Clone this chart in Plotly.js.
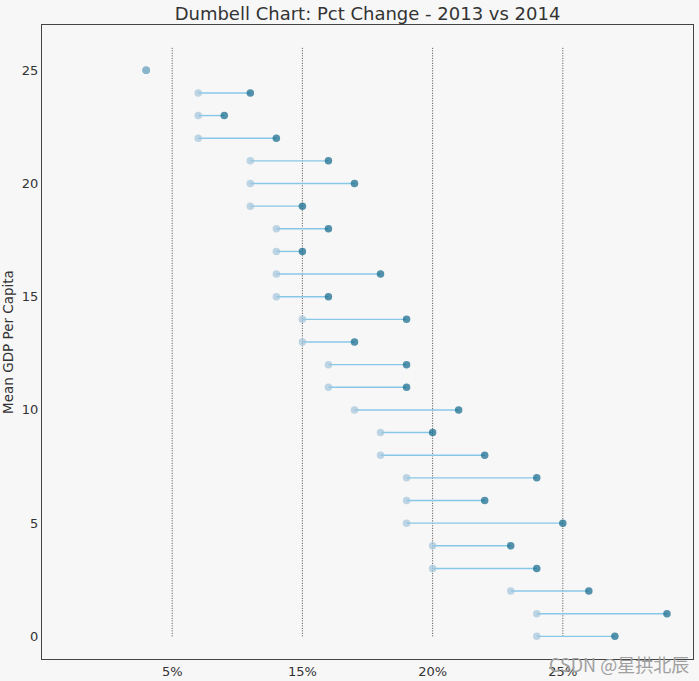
<!DOCTYPE html>
<html>
<head>
<meta charset="utf-8">
<script src="https://cdn.plot.ly/plotly-3.0.1.min.js"></script>
<style>html,body{margin:0;padding:0;background:#f7f7f7;}#chart{width:699px;height:681px;}</style>
</head>
<body>
<div id="chart"></div>
<script>
const rowIndex = [0,1,2,3,4,5,6,7,8,9,10,11,12,13,14,15,16,17,18,19,20,21,22,23,24,25];
const pct2013 = [0.19,0.19,0.18,0.15,0.15,0.14,0.14,0.14,0.13,0.13,0.12,0.11,0.11,0.10,0.10,0.09,0.09,0.09,0.09,0.08,0.08,0.08,0.06,0.06,0.06,0.04];
const pct2014 = [0.22,0.24,0.21,0.19,0.18,0.20,0.17,0.19,0.17,0.15,0.16,0.14,0.14,0.12,0.14,0.11,0.13,0.10,0.11,0.10,0.12,0.11,0.09,0.07,0.08,0.04];
const vlineX = [0.05,0.10,0.15,0.20];
const xTickVals = [0.05,0.10,0.15,0.20];
const xTickText = ['5%','15%','20%','25%'];
const yTickVals = [0,5,10,15,20,25];

const segX = [], segY = [];
rowIndex.forEach((y,i)=>{ segX.push(pct2013[i], pct2014[i], null); segY.push(y, y, null); });

const traces = [
  {type:'scatter', mode:'lines', x:segX, y:segY, line:{color:'#87c8e8', width:1.4}, hoverinfo:'skip', showlegend:false},
  {type:'scatter', mode:'markers', x:pct2014, y:rowIndex, marker:{color:'#0e668b', opacity:0.7, size:7.5}, showlegend:false},
  {type:'scatter', mode:'markers', x:pct2013, y:rowIndex, marker:{color:'#a3c4dc', opacity:0.7, size:7.5}, showlegend:false}
];

const shapes = vlineX.map(v=>({type:'line', xref:'x', yref:'y', x0:v, x1:v, y0:0, y1:26, line:{color:'#222', width:0.8, dash:'1px,1.5px'}, layer:'below'}));

const layout = {
  width:699, height:681,
  paper_bgcolor:'#f7f7f7', plot_bgcolor:'#f7f7f7',
  margin:{l:42, r:6, t:25, b:22},
  font:{family:'DejaVu Sans', color:'#333', size:13},
  title:{text:'Dumbell Chart: Pct Change - 2013 vs 2014', font:{size:18, color:'#333'}, x:0.5258, xanchor:'center', y:0.98, yanchor:'middle'},
  xaxis:{range:[0,0.25], tickvals:xTickVals, ticktext:xTickText, showgrid:false, zeroline:false, showline:true, mirror:true, linecolor:'#444', linewidth:1, ticks:'', ticklen:0, tickfont:{size:13, color:'#333'}},
  yaxis:{range:[-1,27], tickvals:yTickVals, showgrid:false, zeroline:false, showline:true, mirror:true, linecolor:'#444', linewidth:1, ticks:'', ticklen:0, tickfont:{size:13, color:'#333'}, title:{text:'Mean GDP Per Capita', font:{size:13.5, color:'#333'}, standoff:5}},
  shapes:shapes,
  annotations:[{text:'CSDN @星拱北辰', xref:'paper', yref:'paper', x:0.997, y:0.0, xanchor:'right', yanchor:'middle', yshift:-5, showarrow:false, font:{family:'Noto Sans CJK SC', size:18, color:'#a0a0a0'}}]
};

Plotly.newPlot('chart', traces, layout, {displayModeBar:false, staticPlot:true});
</script>
</body>
</html>
